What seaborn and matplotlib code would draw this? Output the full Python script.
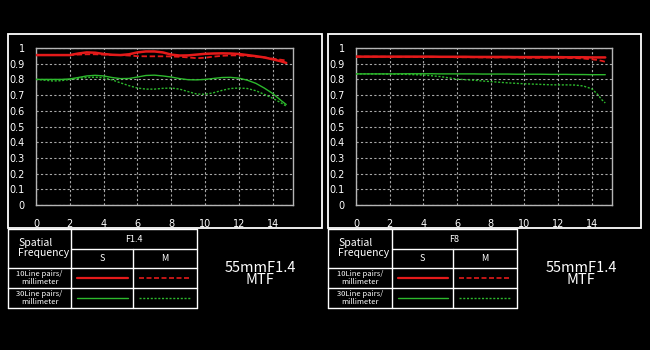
import numpy as np
import pandas as pd
import matplotlib
matplotlib.use("Agg")
import matplotlib.pyplot as plt
import seaborn as sns
from matplotlib.patches import Rectangle
from matplotlib.lines import Line2D

# ---------------- data ----------------
x_ticks = [0, 2, 4, 6, 8, 10, 12, 14]
y_ticks = [0, 0.1, 0.2, 0.3, 0.4, 0.5, 0.6, 0.7, 0.8, 0.9, 1]
y_tick_labels = ["0", "0.1", "0.2", "0.3", "0.4", "0.5", "0.6", "0.7", "0.8", "0.9", "1"]

# F1.4 panel
f14_x = [0, 0.5, 1, 1.5, 2, 2.5, 3, 3.5, 4, 4.5, 5, 5.5, 6, 6.5, 7, 7.5,
         8, 8.5, 9, 9.5, 10, 10.5, 11, 11.5, 12, 12.5, 13, 13.5, 14, 14.5, 14.8]
f14_10_s = [.955, .955, .955, .955, .955, .965, .972, .970, .962, .957, .955, .960, .972, .978, .978, .972,
            .958, .952, .953, .958, .963, .965, .966, .965, .962, .955, .948, .940, .928, .915, .905]
f14_10_m = [.955, .955, .955, .955, .955, .958, .960, .960, .958, .955, .955, .952, .948, .947, .947, .947,
            .946, .944, .940, .935, .938, .945, .950, .953, .953, .950, .945, .940, .932, .925, .920]
f14_30_s = [.800, .800, .800, .800, .803, .812, .822, .826, .822, .812, .805, .806, .815, .825, .827, .822,
            .815, .805, .798, .797, .800, .806, .812, .813, .808, .795, .775, .745, .710, .665, .640]
f14_30_m = [.800, .795, .790, .792, .800, .806, .812, .814, .810, .797, .778, .760, .745, .738, .738, .743,
            .745, .738, .722, .707, .705, .715, .730, .742, .745, .742, .728, .705, .680, .650, .630]

# F8 panel
f8_x = [0, 1, 2, 3, 4, 4.5, 5, 5.5, 6, 6.5, 7, 7.5, 8, 8.5, 9, 9.5, 10, 10.5,
        11, 11.5, 12, 12.5, 13, 13.5, 14, 14.3, 14.6, 14.8]
f8_10_s = [.945, .945, .945, .945, .945, .945, .944, .944, .944, .944, .943, .943, .943, .943, .943, .942,
           .942, .942, .942, .942, .942, .941, .941, .941, .940, .940, .940, .940]
f8_10_m = [.945, .945, .944, .944, .943, .943, .942, .942, .941, .941, .941, .940, .940, .940, .939, .939,
           .938, .938, .938, .938, .938, .937, .936, .933, .928, .924, .918, .912]
f8_30_s = [.835, .835, .835, .836, .836, .836, .835, .835, .835, .835, .835, .834, .834, .834, .834, .833,
           .833, .833, .833, .832, .832, .832, .831, .831, .830, .830, .830, .830]
f8_30_m = [.835, .835, .834, .832, .828, .823, .818, .810, .802, .798, .795, .790, .786, .782, .778, .775,
           .772, .770, .768, .766, .765, .765, .764, .758, .740, .710, .670, .650]

panels = [
    ("F1.4", f14_x, f14_10_s, f14_10_m, f14_30_s, f14_30_m),
    ("F8", f8_x, f8_10_s, f8_10_m, f8_30_s, f8_30_m),
]
row_labels = ["10Line pairs/\nmillimeter", "30Line pairs/\nmillimeter"]
col_labels = ["S", "M"]
header_label = "Spatial\nFrequency"
title_text = "55mmF1.4\nMTF"

# ---------------- style ----------------
RED = "#e41a1a"
GREEN = "#2db92d"
W, H = 650, 350
sns.set_theme(style="dark")
plt.rcParams["font.family"] = ["DejaVu Sans"]
cjk = ["Noto Sans CJK SC", "DejaVu Sans"]

fig = plt.figure(figsize=(6.5, 3.5), dpi=100, facecolor="black")


def fx(px):
    return px / W


def fy(py):
    return 1 - py / H


def fig_line(x0, y0, x1, y1, **kw):
    fig.add_artist(Line2D([fx(x0), fx(x1)], [fy(y0), fy(y1)], transform=fig.transFigure, **kw))


layouts = [
    dict(box=(8, 34, 322, 228), ax=(36, 48, 293, 205), cols=(8, 71, 133, 197), title_x=260),
    dict(box=(328, 34, 641, 228), ax=(356, 48, 612, 205), cols=(328, 392, 453, 517), title_x=581),
]

for (ap, xs, r_s, r_m, g_s, g_m), lay in zip(panels, layouts):
    bx0, by0, bx1, by1 = lay["box"]
    fig.add_artist(Rectangle((fx(bx0), fy(by1)), fx(bx1 - bx0), (by1 - by0) / H,
                             transform=fig.transFigure, fill=False, edgecolor="white", lw=1.3))
    ax0, ay0, ax1, ay1 = lay["ax"]
    ax = fig.add_axes([fx(ax0), fy(ay1), fx(ax1 - ax0), (ay1 - ay0) / H])
    ax.set_facecolor("black")

    sns.lineplot(x=xs, y=r_s, ax=ax, color=RED, lw=1.8, zorder=5)
    sns.lineplot(x=xs, y=r_m, ax=ax, color=RED, lw=1.3, linestyle=(0, (3, 1.5)), zorder=4)
    sns.lineplot(x=xs, y=g_s, ax=ax, color=GREEN, lw=1.0, zorder=5)
    sns.lineplot(x=xs, y=g_m, ax=ax, color=GREEN, lw=1.0, linestyle=(0, (1.5, 1.2)), zorder=4)

    ax.set_xlim(0, 15.2)
    ax.set_ylim(0, 1)
    ax.set_xticks(x_ticks)
    ax.set_xticklabels([str(t) for t in x_ticks])
    ax.set_yticks(y_ticks)
    ax.set_yticklabels(y_tick_labels)
    ax.tick_params(colors="white", labelsize=7, length=0, pad=8)
    ax.tick_params(axis="x", pad=10)
    ax.grid(True, color="#a8a8a8", lw=0.8, linestyle=(0, (2, 2)))
    for s in ax.spines.values():
        s.set_visible(True)
        s.set_color("#b5b5b5")
        s.set_linewidth(1.0)
    ax.set_xlabel("")
    ax.set_ylabel("")

    # table
    c0, c1, c2, c3 = lay["cols"]
    r0, r1, r2, r3, r4 = 229, 249, 268, 288, 308
    lk = dict(color="white", lw=1.0)
    fig_line(c0, r0, c3, r0, **lk)
    fig_line(c1, r1, c3, r1, **lk)
    fig_line(c0, r2, c3, r2, **lk)
    fig_line(c0, r3, c3, r3, **lk)
    fig_line(c0, r4, c3, r4, **lk)
    fig_line(c0, r0, c0, r4, **lk)
    fig_line(c1, r0, c1, r4, **lk)
    fig_line(c2, r1, c2, r4, **lk)
    fig_line(c3, r0, c3, r4, **lk)

    fig.text(fx(c0 + 10), fy((r0 + r2) / 2 - 0.5), header_label, color="white", fontsize=7.5,
             family=cjk, ha="left", va="center", linespacing=0.95)
    fig.text(fx((c1 + c3) / 2), fy((r0 + r1) / 2), ap, color="white", fontsize=6.5,
             family=cjk, ha="center", va="center")
    fig.text(fx((c1 + c2) / 2), fy((r1 + r2) / 2), col_labels[0], color="white", fontsize=6.5,
             family=cjk, ha="center", va="center")
    fig.text(fx((c2 + c3) / 2), fy((r1 + r2) / 2), col_labels[1], color="white", fontsize=6.5,
             family=cjk, ha="center", va="center")
    for lab, ya, yb in zip(row_labels, (r2, r3), (r3, r4)):
        fig.text(fx((c0 + c1) / 2), fy((ya + yb) / 2), lab, color="white", fontsize=5.5,
                 family=cjk, ha="center", va="center", linespacing=0.9)

    ym1, ym2 = 278, 298
    fig_line(c1 + 6, ym1, c2 - 5, ym1, color=RED, lw=1.6)
    fig_line(c2 + 6, ym1, c3 - 6, ym1, color=RED, lw=1.2, linestyle=(0, (3, 1.5)))
    fig_line(c1 + 6, ym2, c2 - 5, ym2, color=GREEN, lw=1.0)
    fig_line(c2 + 6, ym2, c3 - 6, ym2, color=GREEN, lw=1.0, linestyle=(0, (1.5, 1.2)))

    fig.text(fx(lay["title_x"]), fy(274), title_text, color="white", fontsize=10.5,
             family=cjk, ha="center", va="center", linespacing=0.85)

fig.savefig("out.png", dpi=100, facecolor="black")
